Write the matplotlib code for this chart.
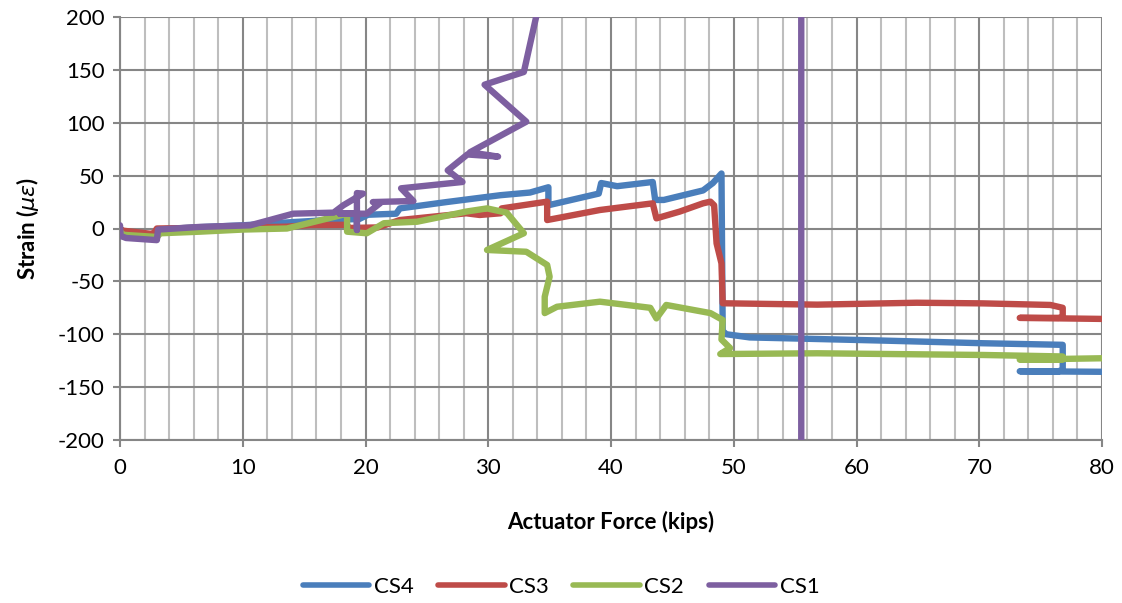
import numpy as np
import matplotlib
matplotlib.use("Agg")
import matplotlib.pyplot as plt
from matplotlib.ticker import MultipleLocator

plt.rcParams['font.family'] = ['Lato', 'DejaVu Sans']
plt.rcParams['axes.unicode_minus'] = False

# Strain gauge traces vs. actuator force
cs4_x = [0, 0.1, 3.0, 3.1, 6, 10, 14, 17, 19.5, 20.2, 22.5, 22.8, 26.6, 29.3, 31, 33.4,
         34.9, 34.9, 39.0, 39.2, 40.5, 43.4, 43.6, 44.3, 47.5, 48.3, 49.0, 49.1, 49.4,
         51.3, 56.8, 62.2, 70.3, 76.8, 76.8, 76.5, 73.3, 80.0]
cs4_y = [0, -7, -10, -1, 1, 3, 6, 8, 9, 13, 14, 19, 25, 29, 31.5, 34,
         39, 22, 33, 43, 40, 44, 27, 27, 36, 43, 52, -97, -100,
         -103, -104.5, -106, -108.5, -110, -133, -135, -135, -135.5]

cs3_x = [0, 0.2, 2.5, 2.8, 3.0, 6, 10, 13.6, 15.5, 18.5, 18.6, 21, 22.8, 28.2, 29.3, 31,
         31.1, 34.8, 34.8, 39.1, 43.4, 43.7, 45.6, 47.5, 48.1, 48.4, 48.6, 49.0, 49.1,
         56.8, 64.9, 70.3, 75.8, 76.8, 76.8, 76.5, 73.3, 80]
cs3_y = [0, -2, -5, -4, 0, 0.5, 1, 1.7, 3.3, 3.5, 0.5, 1, 8, 14.4, 12.8, 14.4,
         19, 25.4, 8, 17.5, 23.8, 9.6, 16, 23.8, 25.4, 22, -14, -33, -70.7,
         -72, -70.2, -70.8, -72.3, -75, -83, -84.5, -84.5, -85.5]

cs2_x = [0, 0.3, 3.0, 3.3, 6.5, 10, 13.6, 15, 18.5, 18.5, 20.1, 21.5, 24.2, 26.9, 28.2,
         29.9, 31.5, 32.9, 29.9, 33.1, 34.8, 35.0, 34.6, 34.6, 35.6, 39.1, 43.2, 43.7,
         44.5, 48.1, 49.1, 49.0, 49.7, 48.9, 56.8, 70.3, 76.8, 76.8, 73.3, 80]
cs2_y = [-3, -6, -8, -4.5, -3, -1, 0, 4, 14, -3, -4.5, 5, 6.4, 12.8, 16,
         19, 15, -4.5, -20.3, -22, -34.5, -45.6, -64.5, -80, -74, -69.2, -75, -85,
         -72.3, -80, -86.5, -105, -113, -118.7, -118, -119.6, -121, -124, -124, -122.7]

cs1_x = [0, 0.05, 0.5, 3.0, 3.1, 6.5, 10.6, 12.2, 14.1, 17.4, 18.2, 19.8, 19.3, 19.3,
         19.3, 17.9, 20.1, 21.2, 20.6, 23.9, 22.9, 27.9, 26.7, 28.3, 30.8, 28.5, 33.1,
         29.7, 32.9, 33.9, 34.2, np.nan, 55.5, 55.5]
cs1_y = [3, -7, -9, -11, -1, 1.5, 3, 8, 14, 15, 22, 33, 33.5, -1.4,
         14, 14, 14, 24, 25, 26, 38, 44, 55, 70, 68, 72, 101,
         136, 148, 200, 230, np.nan, 230, -230]

series = [("CS4", cs4_x, cs4_y, "#4A7EBB"),
          ("CS3", cs3_x, cs3_y, "#BE4B48"),
          ("CS2", cs2_x, cs2_y, "#98B954"),
          ("CS1", cs1_x, cs1_y, "#7D5FA0")]

fig = plt.figure(figsize=(11.22, 6.03), dpi=100)
ax = fig.add_axes([120 / 1122, 1 - 440 / 603, 982 / 1122, 423 / 603])

for name, xs, ys, col in series:
    ax.plot(xs, ys, color=col, lw=4.6, label=name,
            solid_capstyle="round", solid_joinstyle="round", zorder=3)

ax.set_xlim(0, 80)
ax.set_ylim(-200, 200)
ax.xaxis.set_major_locator(MultipleLocator(10))
ax.xaxis.set_minor_locator(MultipleLocator(2))
ax.yaxis.set_major_locator(MultipleLocator(50))

ax.grid(which="minor", axis="x", color="#BEBEBE", lw=1.5, zorder=0)
ax.grid(which="major", axis="x", color="#868686", lw=1.5, zorder=1)
ax.grid(which="major", axis="y", color="#868686", lw=1.5, zorder=1)
ax.set_axisbelow(True)

for s in ["top", "right"]:
    ax.spines[s].set_visible(False)
for s in ["left", "bottom"]:
    ax.spines[s].set_color("#868686")
    ax.spines[s].set_linewidth(1.5)

ax.tick_params(which="major", length=5, width=1.5, color="#868686",
               labelsize=16, pad=6)
ax.tick_params(which="minor", length=0)
ax.tick_params(axis="x", pad=8)

ax.set_xlabel("Actuator Force (kips)", fontsize=16, fontweight="bold", labelpad=24)
ax.set_ylabel(r"Strain ($\mu\varepsilon$)", fontsize=16, fontweight="bold", labelpad=12)

handles, labels = ax.get_legend_handles_labels()
leg = fig.legend(handles, labels, loc="center", bbox_to_anchor=(0.5, 1 - 587 / 603),
                 ncol=4, frameon=False, fontsize=16, handlelength=3.0,
                 columnspacing=1.1, handletextpad=0.2)
for ln in leg.get_lines():
    ln.set_linewidth(4)
    ln.set_solid_capstyle("round")

fig.savefig("out.png", dpi=100)
